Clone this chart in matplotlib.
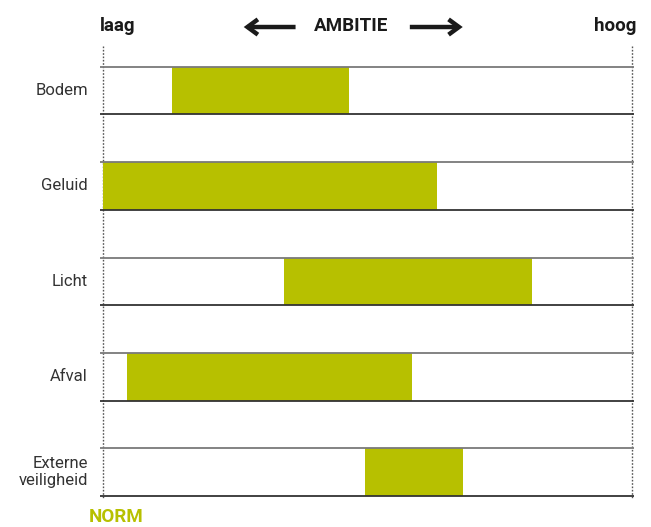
import matplotlib
matplotlib.use("Agg")
import matplotlib.pyplot as plt

categories = ["Bodem", "Geluid", "Licht", "Afval", "Externe\nveiligheid"]
starts = [13.0, 0.0, 34.2, 4.5, 49.5]
ends = [46.5, 63.1, 81.1, 58.4, 68.1]

GREEN = "#B7C000"
plt.rcParams["font.family"] = ["Roboto", "DejaVu Sans"]

fig = plt.figure(figsize=(6.51, 5.27), dpi=100)
ax = fig.add_axes([0, 0, 1, 1])
ax.set_xlim(-19.47, 103.59)
ax.set_ylim(4.573, -0.948)
ax.axis("off")

n = len(categories)
ys = list(range(n))
ax.barh(ys, [e - s for s, e in zip(starts, ends)], left=starts, height=0.5,
        color=GREEN, zorder=2)

line_cols = ["#7a7a7a", "#333333"]
for y in ys:
    for k, yy in enumerate((y - 0.25, y + 0.25)):
        ax.hlines(yy, -0.57, 100.38, color=line_cols[k], lw=1.3, zorder=3)

for x in (0, 100):
    ax.vlines(x, -0.466, 4.28, color="#555555", lw=1.0, linestyles=(0, (1.2, 1.2)), zorder=1)

for y, c in zip(ys, categories):
    ax.text(-2.84, y, c, ha="right", va="center", fontsize=12, color="#333333",
            linespacing=1.15)

ax.text(-0.57, -0.676, "laag", ha="left", va="center", fontsize=13.5, fontweight="bold", color="#1a1a1a")
ax.text(100.76, -0.676, "hoog", ha="right", va="center", fontsize=13.5, fontweight="bold", color="#1a1a1a")
ax.text(46.97, -0.676, "AMBITIE", ha="center", va="center", fontsize=13.5, fontweight="bold", color="#1a1a1a")

aprops = dict(arrowstyle="->,head_width=0.55,head_length=0.75", lw=3.2, color="#1a1a1a",
              capstyle="butt", joinstyle="miter", shrinkA=0, shrinkB=0)
ax.annotate("", xy=(26.6, -0.665), xytext=(36.4, -0.665), arrowprops=aprops)
ax.annotate("", xy=(68.0, -0.665), xytext=(58.0, -0.665), arrowprops=aprops)

ax.text(2.46, 4.47, "NORM", ha="center", va="center", fontsize=13.5, fontweight="bold", color=GREEN)

fig.savefig("out.png", dpi=100)
